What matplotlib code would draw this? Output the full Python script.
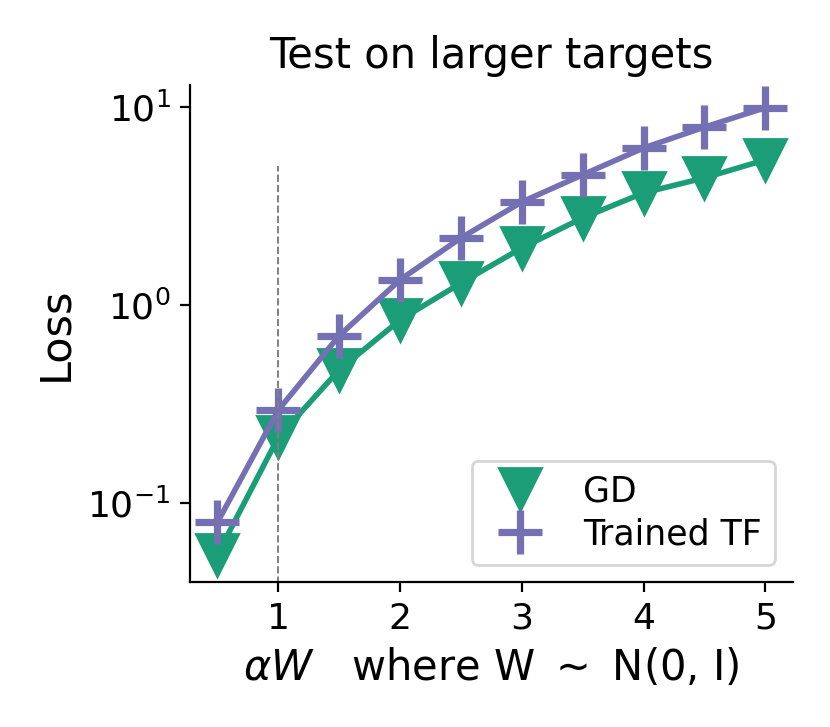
import matplotlib
matplotlib.use("Agg")
import matplotlib.pyplot as plt

alphas = [0.5, 1.0, 1.5, 2.0, 2.5, 3.0, 3.5, 4.0, 4.5, 5.0]
gd_loss = [0.055, 0.215, 0.47, 0.84, 1.29, 1.94, 2.75, 3.68, 4.38, 5.4]
tf_loss = [0.080, 0.295, 0.70, 1.34, 2.18, 3.31, 4.54, 6.2, 7.9, 9.9]
x_ticks = [1, 2, 3, 4, 5]

GREEN = "#1b9e77"
PURPLE = "#7570b3"

fig = plt.figure(figsize=(4.15, 3.635), dpi=200)
ax = fig.add_axes([0.229, 0.199, 0.726, 0.684])

ax.plot(alphas, gd_loss, color=GREEN, lw=2)
ax.plot(alphas, gd_loss, color=GREEN, marker="v", markersize=15, ls="none", label="GD")
ax.plot(alphas, tf_loss, color=PURPLE, lw=2)
ax.plot(alphas, tf_loss, color=PURPLE, marker="+", markersize=16, mew=2.6, ls="none", label="Trained TF")
ax.set_yscale("log")
ax.set_xticks(x_ticks)
ax.yaxis.set_minor_locator(matplotlib.ticker.NullLocator())
ax.vlines(1, 0.001, 5, colors="gray", linestyles="--", lw=0.7)
ax.set_ylim(10**-1.40, 10**1.11)
ax.set_xlim(0.275, 5.225)

for s in ["top", "right"]:
    ax.spines[s].set_visible(False)
ax.tick_params(labelsize=13)
ax.set_title("Test on larger targets", fontsize=15)
ax.set_ylabel("Loss", fontsize=15.5)
ax.set_xlabel(r"$\alpha W$   where W $\sim$ N(0, I)", fontsize=15)
ax.legend(loc="lower right", fontsize=12.5, borderpad=0.4, labelspacing=0.25,
          handletextpad=0.8)

fig.savefig("out.png", dpi=200)
